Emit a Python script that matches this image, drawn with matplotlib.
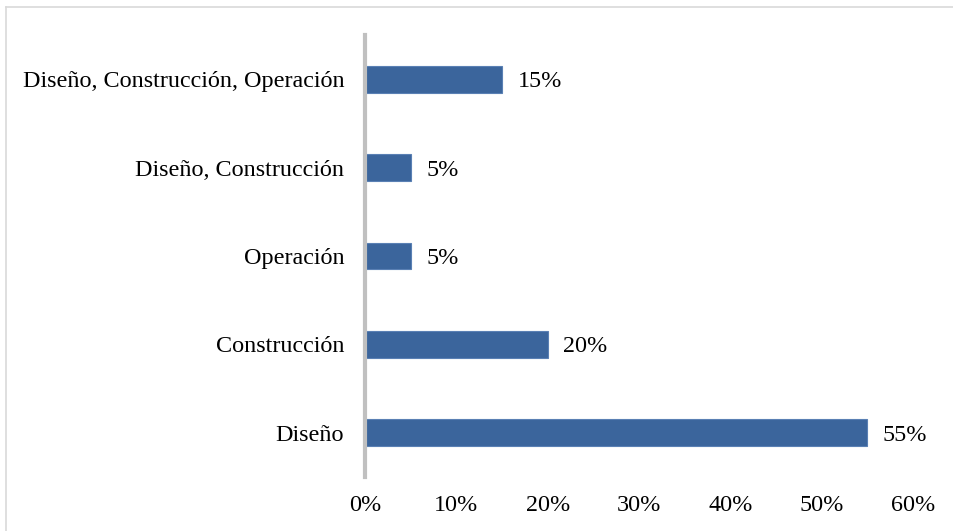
import matplotlib.pyplot as plt
from matplotlib.lines import Line2D

categories = ["Diseño", "Construcción", "Operación", "Diseño, Construcción",
              "Diseño, Construcción, Operación"]
values = [0.55, 0.20, 0.05, 0.05, 0.15]
xticks = [0, 0.1, 0.2, 0.3, 0.4, 0.5, 0.6]

plt.rcParams['font.family'] = ['Liberation Serif', 'DejaVu Serif']

W, H = 954, 531
fs = 17.4
fig = plt.figure(figsize=(W / 100, H / 100), dpi=100)
ax = fig.add_axes([365 / W, 1 - 477 / H, (913 - 365) / W, (477 - 35) / H])

ypos = range(len(categories))
ax.barh(ypos, values, height=0.305, color='#3b659c', edgecolor='#5a80b4',
        linewidth=0.8, zorder=2)

for y, v in zip(ypos, values):
    ax.text(v + 0.017, y, f"{v:.0%}", va='center_baseline', ha='left', fontsize=fs)

ax.set_xlim(0, 0.6)
ax.set_ylim(-0.5, len(categories) - 0.5)
ax.set_yticks(list(ypos))
ax.set_yticklabels(categories, fontsize=fs, va='center_baseline')
ax.set_xticks(xticks)
ax.set_xticklabels([f"{t:.0%}" for t in xticks], fontsize=fs)
ax.tick_params(axis='both', length=0)
ax.tick_params(axis='y', pad=15)
ax.tick_params(axis='x', pad=13)

for s in ['top', 'right', 'bottom']:
    ax.spines[s].set_visible(False)
ax.spines['left'].set_color('#c0c0c0')
ax.spines['left'].set_linewidth(3)

# thin frame around the chart area (left and top edges visible)
fig.add_artist(Line2D([6.5 / W, 6.5 / W], [0, 1 - 6.5 / H], transform=fig.transFigure,
                      color='#d9d9d9', lw=1.2))
fig.add_artist(Line2D([6.5 / W, 1], [1 - 6.5 / H, 1 - 6.5 / H], transform=fig.transFigure,
                      color='#d9d9d9', lw=1.2))

fig.savefig('out.png', dpi=100)
